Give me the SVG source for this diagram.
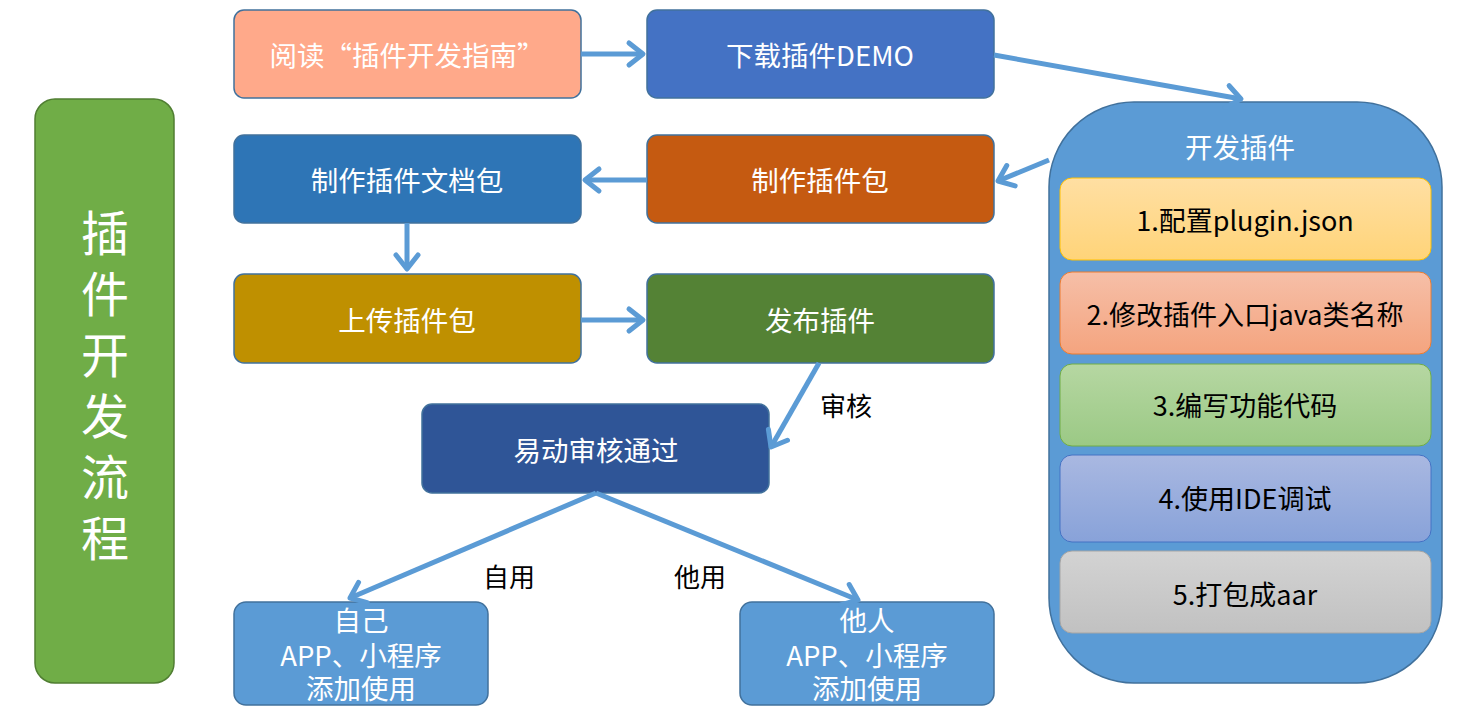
<svg xmlns="http://www.w3.org/2000/svg" width="1466" height="719" viewBox="0 0 1466 719">
<style>
.t{font-family:"Noto Sans CJK SC","Noto Sans",sans-serif;font-size:27.5px;fill:#fff;text-anchor:middle;dominant-baseline:central}
.k{font-family:"Noto Sans CJK SC","Noto Sans",sans-serif;font-size:27px;fill:#000;text-anchor:middle;dominant-baseline:central}
.l{font-family:"Noto Sans CJK SC",serif;font-size:26px;fill:#000;text-anchor:middle;dominant-baseline:central}
.b{stroke:#41719C;stroke-width:1.5}
.c{fill:none;stroke:#5B9BD5;stroke-width:5}
</style>
<defs>
<marker id="a" markerUnits="userSpaceOnUse" viewBox="-20 -16 24 32" refX="0" refY="0" markerWidth="24" markerHeight="32" orient="auto">
<path d="M-14,-11 L0,0 L-14,11" fill="none" stroke="#5B9BD5" stroke-width="5" stroke-linecap="round" stroke-linejoin="round"/>
</marker>
<linearGradient id="g1" x1="0" y1="0" x2="0" y2="1"><stop offset="0" stop-color="#FFDFA3"/><stop offset="1" stop-color="#FFD479"/></linearGradient>
<linearGradient id="g2" x1="0" y1="0" x2="0" y2="1"><stop offset="0" stop-color="#F6BFA8"/><stop offset="1" stop-color="#F4A47F"/></linearGradient>
<linearGradient id="g3" x1="0" y1="0" x2="0" y2="1"><stop offset="0" stop-color="#B6D7A2"/><stop offset="1" stop-color="#9BC985"/></linearGradient>
<linearGradient id="g4" x1="0" y1="0" x2="0" y2="1"><stop offset="0" stop-color="#A9B8E1"/><stop offset="1" stop-color="#88A2D9"/></linearGradient>
<linearGradient id="g5" x1="0" y1="0" x2="0" y2="1"><stop offset="0" stop-color="#D3D3D3"/><stop offset="1" stop-color="#C1C1C1"/></linearGradient>
</defs>
<rect width="1466" height="719" fill="#fff"/>

<g id="title">
<rect x="35" y="99" width="139" height="584" rx="20" fill="#70AD47" stroke="#507E32" stroke-width="1.5"/>
<text x="105" y="392" font-family="Noto Sans CJK SC,serif" font-size="48" fill="#fff" text-anchor="middle" writing-mode="vertical-rl" letter-spacing="13">插件开发流程</text>
</g>

<g id="n1"><rect class="b" x="234" y="10" width="347" height="88" rx="10" fill="#FFA98A"/><text class="t" x="407" y="54">阅读“插件开发指南”</text></g>
<g id="n2"><rect class="b" x="647" y="10" width="347" height="88" rx="10" fill="#4472C4"/><text class="t" x="820" y="54">下载插件DEMO</text></g>
<g id="n3"><rect class="b" x="234" y="135" width="347" height="88" rx="10" fill="#2E75B6"/><text class="t" x="407" y="179">制作插件文档包</text></g>
<g id="n4"><rect class="b" x="647" y="135" width="347" height="88" rx="10" fill="#C55A11"/><text class="t" x="820" y="179">制作插件包</text></g>
<g id="n5"><rect class="b" x="234" y="274" width="347" height="89" rx="10" fill="#BF9000"/><text class="t" x="407" y="319">上传插件包</text></g>
<g id="n6"><rect class="b" x="647" y="274" width="347" height="89" rx="10" fill="#548235"/><text class="t" x="820" y="319">发布插件</text></g>
<g id="n7"><rect class="b" x="422" y="404" width="347" height="89" rx="10" fill="#2F5597"/><text class="t" x="596" y="449">易动审核通过</text></g>
<g id="n8"><rect class="b" x="234" y="602" width="254" height="103" rx="12" fill="#5B9BD5"/>
<text class="t" x="361" y="619">自己</text><text class="t" x="361" y="654">APP、小程序</text><text class="t" x="361" y="687">添加使用</text></g>
<g id="n9"><rect class="b" x="740" y="602" width="254" height="103" rx="12" fill="#5B9BD5"/>
<text class="t" x="867" y="619">他人</text><text class="t" x="867" y="654">APP、小程序</text><text class="t" x="867" y="687">添加使用</text></g>

<g id="dev">
<rect x="1049" y="102" width="393" height="581" rx="85" fill="#5B9BD5" stroke="#41719C" stroke-width="1.5"/>
<text class="t" x="1240" y="146">开发插件</text>
<g id="s1"><rect x="1060" y="178" width="371" height="82" rx="12" fill="url(#g1)" stroke="#FFC000" stroke-width="1"/><text class="k" x="1245" y="219">1.配置plugin.json</text></g>
<g id="s2"><rect x="1060" y="272" width="371" height="82" rx="12" fill="url(#g2)" stroke="#ED7D31" stroke-width="1"/><text class="k" x="1245" y="313">2.修改插件入口java类名称</text></g>
<g id="s3"><rect x="1060" y="364" width="371" height="82" rx="12" fill="url(#g3)" stroke="#70AD47" stroke-width="1"/><text class="k" x="1245" y="404">3.编写功能代码</text></g>
<g id="s4"><rect x="1060" y="455" width="371" height="87" rx="12" fill="url(#g4)" stroke="#4472C4" stroke-width="1"/><text class="k" x="1245" y="497">4.使用IDE调试</text></g>
<g id="s5"><rect x="1060" y="551" width="371" height="82" rx="12" fill="url(#g5)" stroke="#A5A5A5" stroke-width="1"/><text class="k" x="1245" y="593">5.打包成aar</text></g>
</g>

<g id="connectors">
<line class="c" x1="581" y1="54" x2="643" y2="54" marker-end="url(#a)"/>
<line class="c" x1="994" y1="55" x2="1241" y2="99" marker-end="url(#a)"/>
<line class="c" x1="1049" y1="160" x2="998" y2="181" marker-end="url(#a)"/>
<line class="c" x1="647" y1="180" x2="585" y2="180" marker-end="url(#a)"/>
<line class="c" x1="407" y1="223" x2="407" y2="269" marker-end="url(#a)"/>
<line class="c" x1="581" y1="320" x2="643" y2="320" marker-end="url(#a)"/>
<line class="c" x1="819" y1="363" x2="771" y2="447" marker-end="url(#a)"/>
<line class="c" x1="596" y1="493" x2="350" y2="598" marker-end="url(#a)"/>
<line class="c" x1="596" y1="493" x2="858" y2="600" marker-end="url(#a)"/>
<text class="l" x="846" y="404">审核</text>
<text class="l" x="509" y="575">自用</text>
<text class="l" x="700" y="575">他用</text>
</g>
</svg>
